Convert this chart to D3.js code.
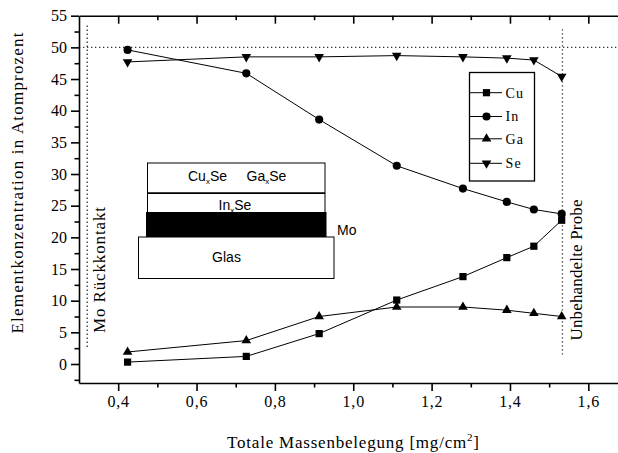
<!DOCTYPE html>
<html>
<head>
<meta charset="utf-8">
<script src="https://cdn.jsdelivr.net/npm/d3@7"></script>
<style>
  body { margin: 0; background: #fff; }
  svg { display: block; }
  .axis path, .axis line { stroke: #000; stroke-width: 1.6; }
</style>
</head>
<body>
<svg id="chart"></svg>
<script>
// chart values
let mass = [0.424, 0.727, 0.913, 1.111, 1.280, 1.392, 1.461, 1.532]
let cu = [0.3, 1.2, 4.8, 10.1, 13.8, 16.8, 18.6, 22.7]
let indium = [49.6, 45.9, 38.6, 31.3, 27.7, 25.6, 24.4, 23.7]
let ga = [1.9, 3.7, 7.5, 9.0, 9.0, 8.5, 8.0, 7.5]
let se = [47.7, 48.5, 48.5, 48.7, 48.5, 48.3, 48.0, 45.4]
let seriesNames = ["Cu", "In", "Ga", "Se"]

let xMajor = [0.4, 0.6, 0.8, 1.0, 1.2, 1.4, 1.6]
let xMinor = [0.5, 0.7, 0.9, 1.1, 1.3, 1.5]
let yMajor = [0, 5, 10, 15, 20, 25, 30, 35, 40, 45, 50, 55]
let yMinor = [-2.5, 2.5, 7.5, 12.5, 17.5, 22.5, 27.5, 32.5, 37.5, 42.5, 47.5, 52.5]

let width = 618
let height = 453
let serif = '"Times New Roman", "Liberation Serif", serif'
let sans = 'Arial, "Liberation Sans", sans-serif'

let svg = d3.select('#chart').attr('width', width).attr('height', height)

let xScale = d3.scaleLinear().domain([0.3, 1.7]).range([79, 627.5])
let yScale = d3.scaleLinear().domain([-3, 55]).range([383, 15.7])

let comma = (d) => d3.format('.1f')(d).replace('.', ',')

// axes
let drawAxes = () => {
  let bottom = svg.append('g').attr('class', 'axis')
    .attr('transform', 'translate(0,' + yScale(-3) + ')')
  bottom.call(d3.axisBottom(xScale).tickValues(xMajor).tickSize(8).tickSizeOuter(0).tickPadding(5).tickFormat(comma))
  bottom.selectAll('text').style('font-family', serif).style('font-size', '16px')
    .attr('letter-spacing', 0.8).attr('fill', '#000')
  svg.append('g').attr('class', 'axis')
    .attr('transform', 'translate(0,' + yScale(-3) + ')')
    .call(d3.axisBottom(xScale).tickValues(xMinor).tickSize(4.5).tickSizeOuter(0).tickFormat(''))
    .select('.domain').remove()

  svg.append('g').attr('class', 'axis')
    .attr('transform', 'translate(0,' + yScale(55) + ')')
    .call(d3.axisBottom(xScale).tickValues(xMajor).tickSize(8).tickSizeOuter(0).tickFormat(''))
  svg.append('g').attr('class', 'axis')
    .attr('transform', 'translate(0,' + yScale(55) + ')')
    .call(d3.axisBottom(xScale).tickValues(xMinor).tickSize(4.5).tickSizeOuter(0).tickFormat(''))
    .select('.domain').remove()

  let left = svg.append('g').attr('class', 'axis')
    .attr('transform', 'translate(' + xScale(0.3) + ',0)')
  left.call(d3.axisLeft(yScale).tickValues(yMajor).tickSize(8).tickSizeOuter(0).tickPadding(4))
  left.selectAll('text').style('font-family', serif).style('font-size', '16px').attr('fill', '#000')
  svg.append('g').attr('class', 'axis')
    .attr('transform', 'translate(' + xScale(0.3) + ',0)')
    .call(d3.axisLeft(yScale).tickValues(yMinor).tickSize(4.5).tickSizeOuter(0).tickFormat(''))
    .select('.domain').remove()
}

// dotted guide lines
let drawGuides = () => {
  let guides = [
    [[0.3, 50], [1.7, 50]],
    [[0.321, 2.7], [0.321, 53.7]],
    [[1.534, 1.5], [1.534, 53.1]]
  ]
  svg.selectAll('.guide').data(guides).enter().append('line')
    .attr('class', 'guide')
    .attr('x1', (d) => xScale(d[0][0])).attr('y1', (d) => yScale(d[0][1]))
    .attr('x2', (d) => xScale(d[1][0])).attr('y2', (d) => yScale(d[1][1]))
    .attr('stroke', '#333').attr('stroke-width', 1.3).attr('stroke-dasharray', '1.3,2.7')
}

let symbols = {
  Cu: { type: d3.symbolSquare, size: 52, rot: 0 },
  In: { type: d3.symbolCircle, size: 52, rot: 0 },
  Ga: { type: d3.symbolTriangle, size: 40, rot: 0 },
  Se: { type: d3.symbolTriangle, size: 40, rot: 180 }
}

let drawSeries = () => {
  let all = [cu, indium, ga, se]
  let line = d3.line().x((d, i) => xScale(mass[i])).y((d) => yScale(d))
  all.forEach((vals, k) => {
    let name = seriesNames[k]
    svg.append('path').attr('d', line(vals))
      .attr('fill', 'none').attr('stroke', '#000').attr('stroke-width', 1)
    svg.selectAll('.pt-' + name).data(vals).enter().append('path')
      .attr('class', 'pt-' + name)
      .attr('d', d3.symbol().type(symbols[name].type).size(symbols[name].size))
      .attr('transform', (d, i) => 'translate(' + xScale(mass[i]) + ',' + yScale(d) + ') rotate(' + symbols[name].rot + ')')
      .attr('fill', '#000')
  })
}

let drawLegend = () => {
  let lg = svg.append('g')
  lg.append('rect').attr('x', 469.5).attr('y', 72.5).attr('width', 65).attr('height', 108.5)
    .attr('fill', '#fff').attr('stroke', '#000').attr('stroke-width', 1.3)
  let rows = [92.7, 116.5, 138.8, 163.3]
  seriesNames.forEach((name, i) => {
    let yy = rows[i]
    lg.append('line').attr('x1', 470).attr('x2', 502).attr('y1', yy).attr('y2', yy)
      .attr('stroke', '#000').attr('stroke-width', 1)
    lg.append('path')
      .attr('d', d3.symbol().type(symbols[name].type).size(symbols[name].size))
      .attr('transform', 'translate(486.5,' + yy + ') rotate(' + symbols[name].rot + ')')
    lg.append('text').attr('x', 505.5).attr('y', yy).attr('dy', '0.35em')
      .style('font-family', serif).style('font-size', '14px').attr('letter-spacing', 1.2)
      .text(name)
  })
}

let drawInset = () => {
  let g = svg.append('g').style('font-family', sans).style('font-size', '14px')
  g.append('rect').attr('x', 147.5).attr('y', 163).attr('width', 177.5).attr('height', 30)
    .attr('fill', '#fff').attr('stroke', '#000').attr('stroke-width', 1)
  g.append('line').attr('x1', 147.5).attr('x2', 325).attr('y1', 193.5).attr('y2', 193.5)
    .attr('stroke', '#000').attr('stroke-width', 2.2)
  g.append('rect').attr('x', 147.5).attr('y', 193.5).attr('width', 177.5).attr('height', 19)
    .attr('fill', '#fff').attr('stroke', '#000').attr('stroke-width', 1)
  g.append('rect').attr('x', 146).attr('y', 212).attr('width', 180.5).attr('height', 26)
    .attr('fill', '#000')
  g.append('rect').attr('x', 138.5).attr('y', 237).attr('width', 195.5).attr('height', 41.5)
    .attr('fill', '#fff').attr('stroke', '#000').attr('stroke-width', 1)

  let sub = (x, y, base) => {
    let t = g.append('text').attr('x', x).attr('y', y)
    t.append('tspan').text(base)
    t.append('tspan').style('font-size', '8px').attr('dy', 3).text('x')
    t.append('tspan').attr('dy', -3).text('Se')
  }
  sub(188, 181, 'Cu')
  sub(246.5, 181, 'Ga')
  sub(218.5, 210, 'In')
  g.append('text').attr('x', 337).attr('y', 235).text('Mo')
  g.append('text').attr('x', 226.5).attr('y', 262).attr('text-anchor', 'middle').text('Glas')
}

let drawTitles = () => {
  svg.append('text').attr('transform', 'translate(23,183) rotate(-90)')
    .attr('text-anchor', 'middle').style('font-family', serif).style('font-size', '17px')
    .attr('textLength', 301).attr('lengthAdjust', 'spacing')
    .text('Elementkonzentration in Atomprozent')
  svg.append('text').attr('transform', 'translate(105,270) rotate(-90)')
    .attr('text-anchor', 'middle').style('font-family', serif).style('font-size', '17px')
    .attr('textLength', 126).attr('lengthAdjust', 'spacing')
    .text('Mo Rückkontakt')
  svg.append('text').attr('transform', 'translate(582,270) rotate(-90)')
    .attr('text-anchor', 'middle').style('font-family', serif).style('font-size', '17px')
    .attr('textLength', 141).attr('lengthAdjust', 'spacing')
    .text('Unbehandelte Probe')
  let xt = svg.append('text').attr('x', 353).attr('y', 448)
    .attr('text-anchor', 'middle').style('font-family', serif).style('font-size', '17px')
    .attr('textLength', 252).attr('lengthAdjust', 'spacing')
  xt.append('tspan').text('Totale Massenbelegung [mg/cm')
  xt.append('tspan').style('font-size', '11px').attr('dy', -7).text('2')
  xt.append('tspan').attr('dy', 7).text(']')
}

drawGuides()
drawAxes()
drawSeries()
drawLegend()
drawInset()
drawTitles()
</script>
</body>
</html>
